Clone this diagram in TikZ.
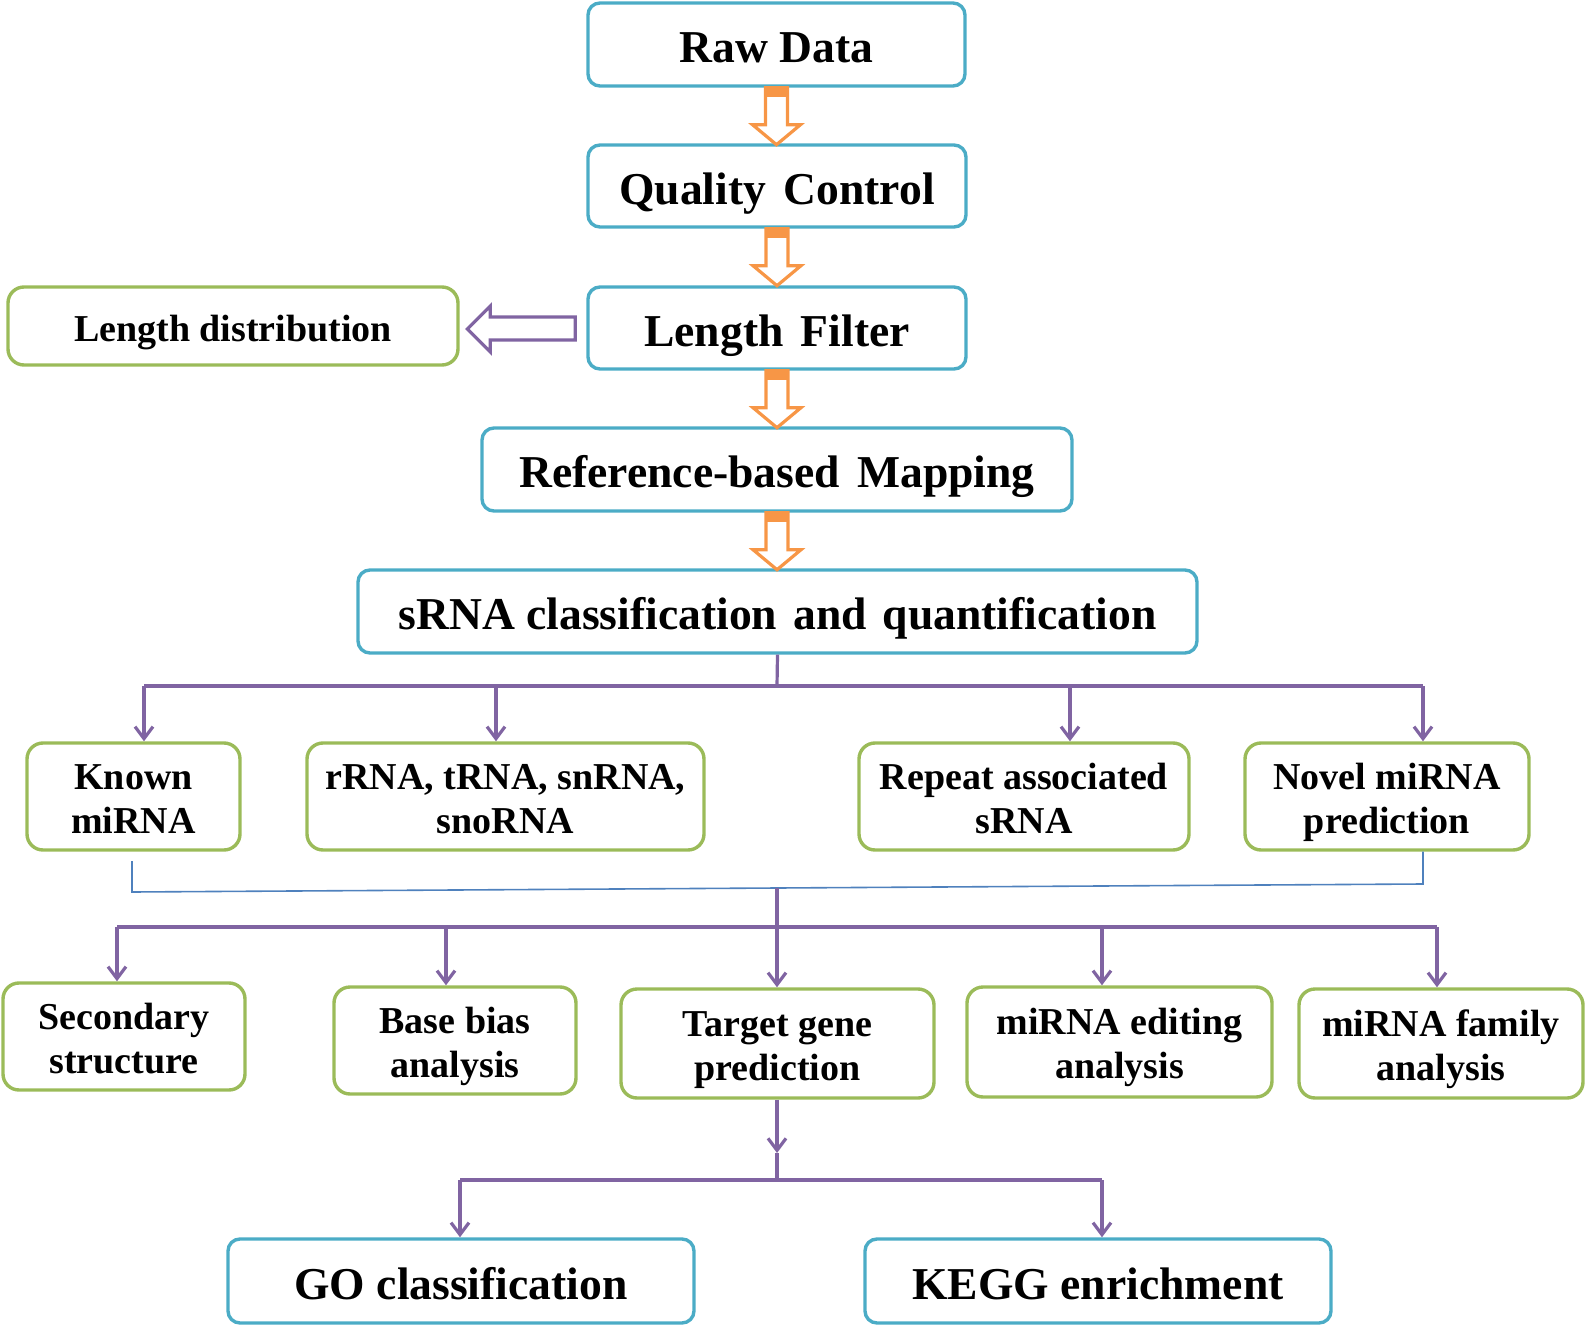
\documentclass[tikz,border=0pt]{standalone}
\usepackage{fontspec}
\setmainfont{Liberation Serif}
\usetikzlibrary{arrows.meta,calc}
\definecolor{boxblue}{HTML}{4BACC6}
\definecolor{boxgreen}{HTML}{9BBB59}
\definecolor{arrorange}{HTML}{F79646}
\definecolor{linepurple}{HTML}{8064A2}
\definecolor{thinblue}{HTML}{4F81BD}
\newcommand\twol[2]{\raisebox{3.75pt}[0pt][0pt]{\begin{tabular}[t]{@{}c@{}}#1\\#2\end{tabular}}}
\tikzset{
  bigbox/.style={draw=boxblue, line width=1.7pt, rounded corners=6pt, align=center, inner sep=0pt,
    font=\fontsize{22.8}{26}\selectfont\bfseries,
    execute at begin node={\rule[-5.5pt]{0pt}{29.2pt}}},
  smallbox/.style={draw=boxgreen, line width=1.7pt, rounded corners=8pt, inner sep=0pt,
    font=\fontsize{19}{22}\selectfont\bfseries},
  conn/.style={draw=linepurple, line width=1.6pt},
  arr/.style={conn, -{Straight Barb[length=6pt,width=9pt,line width=1.6pt]}},
  thinconn/.style={draw=thinblue, line width=0.8pt},
  downarr/.pic={
    \fill[arrorange] (-11,0) rectangle (11,9);
    \draw[arrorange, line width=1.6pt, line join=miter]
      (-11,0) -- (-11,37) -- (-24,37) -- (0,57) -- (24,37) -- (11,37) -- (11,0) -- cycle;
  },
  leftarr/.pic={
    \draw[linepurple, line width=1.6pt, line join=miter]
      (-11,-11) -- (-96,-11) -- (-96,-22) -- (-119,1) -- (-96,24) -- (-96,12) -- (-11,12) -- cycle;
  }
}
\begin{document}
\begin{tikzpicture}[x=0.5pt,y=-0.5pt]
\useasboundingbox (0,0) rectangle (1590,1326);
% top chain
\node[bigbox, minimum width=188.5pt, minimum height=41.5pt] (raw) at (776.5,44.5) {Raw Data};
\node[bigbox, minimum width=189pt, minimum height=41pt] (qc) at (777,186) {Quality\hspace{0.13em} Control};
\node[bigbox, minimum width=189pt, minimum height=41pt] (lf) at (777,328) {Length\hspace{0.13em} Filter};
\node[smallbox, minimum width=225pt, minimum height=39pt, text height=20pt, text depth=4.4pt] (ld) at (233,326) {Length distribution};
\node[bigbox, minimum width=295pt, minimum height=41.5pt] (ref) at (777,469.5) {Reference-based\hspace{0.13em} Mapping};
\node[bigbox, minimum width=419.5pt, minimum height=41.5pt] (srna) at (777.5,611.5) {sRNA classification\hspace{0.1em} and\hspace{0.1em} quantification};

\pic at (raw.south) {downarr};
\pic at (qc.south) {downarr};
\pic at (lf.south) {downarr};
\pic at (ref.south) {downarr};
\pic at (lf.west) {leftarr};

% level 2
\node[smallbox, minimum width=106.5pt, minimum height=53.5pt] (known) at (133.5,796.5) {\twol{Known}{miRNA}};
\node[smallbox, minimum width=198.5pt, minimum height=53.5pt] (rrna) at (505.5,796.5) {\twol{rRNA, tRNA, snRNA,}{snoRNA}};
\node[smallbox, minimum width=165pt, minimum height=53.5pt] (rep) at (1024,796.5) {\twol{Repeat associated}{sRNA}};
\node[smallbox, minimum width=142pt, minimum height=53.5pt] (novel) at (1387,796.5) {\twol{Novel miRNA}{prediction}};

\coordinate (s2) at (777,686);
\coordinate (a1) at (144,686);
\coordinate (a2) at (496,686);
\coordinate (a3) at (1070,686);
\coordinate (a4) at (1423,686);
\draw[conn] (srna.south) -- (s2);
\draw[conn] (a1) -- (a4);
\foreach \c/\n in {a1/known,a2/rrna,a3/rep,a4/novel}
  \draw[arr] (\c) -- (\c |- \n.north);

% thin blue merge
\coordinate (b1) at (132,861);
\coordinate (b2) at (132,892);
\coordinate (b3) at (1423,884);
\coordinate (bm) at (777,888);
\draw[thinconn] (b1) -- (b2) -- (b3) -- (b3 |- novel.south);

% level 3
\node[smallbox, minimum width=121pt, minimum height=53.5pt] (sec) at (124,1036.5) {\twol{Secondary}{structure}};
\node[smallbox, minimum width=121pt, minimum height=53.5pt] (base) at (455,1040.5) {\twol{Base bias}{analysis}};
\node[smallbox, minimum width=156.5pt, minimum height=54.5pt] (target) at (777.5,1043.5) {\twol{Target gene}{prediction}};
\node[smallbox, minimum width=152.5pt, minimum height=55pt] (edit) at (1119.5,1042) {\twol{miRNA editing}{analysis}};
\node[smallbox, minimum width=142pt, minimum height=54.5pt] (fam) at (1441,1043.5) {\twol{miRNA family}{analysis}};

\coordinate (m3) at (777,927);
\coordinate (c1) at (117,927);
\coordinate (c2) at (446,927);
\coordinate (c3) at (777,927);
\coordinate (c4) at (1102,927);
\coordinate (c5) at (1437,927);
\draw[conn] (bm) -- (m3);
\draw[conn] (c1) -- (c5);
\foreach \c/\n in {c1/sec,c2/base,c3/target,c4/edit,c5/fam}
  \draw[arr] (\c) -- (\c |- \n.north);

% bottom
\node[bigbox, minimum width=233pt, minimum height=42pt] (go) at (461,1281) {GO classification};
\node[bigbox, minimum width=233pt, minimum height=42pt] (kegg) at (1098,1281) {KEGG enrichment};

\coordinate (tm) at (777,1153);
\coordinate (tj) at (777,1180);
\coordinate (d1) at (460,1180);
\coordinate (d2) at (1102,1180);
\draw[arr] (target.south -| tm) -- (tm);
\draw[conn] (tm) -- (tj);
\draw[conn] (d1) -- (d2);
\draw[arr] (d1) -- (d1 |- go.north);
\draw[arr] (d2) -- (d2 |- kegg.north);
\end{tikzpicture}
\end{document}
